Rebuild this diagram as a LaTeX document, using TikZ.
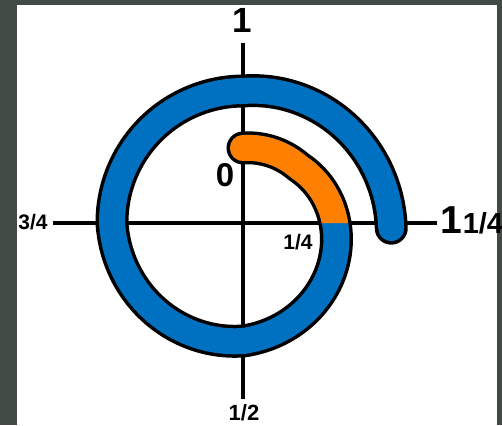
\documentclass[tikz,border=0pt]{standalone}
\usepackage{fontspec}
\setmainfont{Liberation Sans}
\usetikzlibrary{positioning}
\definecolor{ringblue}{RGB}{0,112,192}
\definecolor{ringorange}{RGB}{255,128,0}
\definecolor{framegray}{RGB}{66,74,70}
\tikzset{
  axisline/.style={line width=4pt},
  numlabel/.style={inner sep=0pt, font=\bfseries},
}
% the spiral, \p = degrees clockwise from the top
\def\spiralpath{plot[domain=0:452, samples=227, variable=\p] ({spr(\p)*sin(\p)}, {spr(\p)*cos(\p)})}
\begin{document}
\begin{tikzpicture}[x=1pt, y=1pt,
  declare function={spr(\p) = (\p<45) ? 75+\p*4/45 : ((\p<90) ? 79+(\p-45)*13/45 :
    ((\p<180) ? 92+(\p-90)*26/90 : ((\p<270) ? 118+(\p-180)*13/90 :
    ((\p<360) ? 131+(\p-270)/90 : 132+(\p-360)*16/90))));}]
  % Frame
  \fill[framegray] (-243,-202) rectangle (259,223);
  \fill[white] (-226,-202) rectangle (254,218);
  \useasboundingbox (-243,-202) rectangle (259,223);
  % Axes
  \coordinate (top) at (0,180);
  \coordinate (bottom) at (0,-176);
  \coordinate (left) at (-190,0);
  \coordinate (right) at (194,0);
  \draw[axisline] (top) -- (bottom);
  \draw[axisline] (left) -- (right);
  % Spiral: outline, blue, orange first quarter
  \draw[line width=33pt, line cap=round] \spiralpath;
  \draw[ringblue, line width=26pt, line cap=round] \spiralpath;
  \begin{scope}
    \clip (-20,0) -- (-20,100) -- (0,100) -- (0,112) arc[start angle=90, end angle=0, radius=112] -- cycle;
    \draw[ringorange, line width=26pt, line cap=round] \spiralpath;
  \end{scope}
  % Labels
  \node[numlabel, font=\fontsize{35}{35}\selectfont\bfseries] (one) at (-1,202.5) {1};
  \node[numlabel, font=\fontsize{22}{22}\selectfont\bfseries] (half) at (1,-190) {1/2};
  \node[numlabel, font=\fontsize{21}{21}\selectfont\bfseries] (threeq) at (-210,1) {3/4};
  \node[numlabel, font=\fontsize{33}{33}\selectfont\bfseries] (zero) at (-18,48) {0};
  \node[numlabel, font=\fontsize{21}{21}\selectfont\bfseries] (quarter) at (55,-19.5) {1/4};
  \node[numlabel, anchor=base, font=\fontsize{39}{39}\selectfont\bfseries] (onefull) at (208.5,-10) {1};
  \node[numlabel, anchor=base west, font=\fontsize{29}{29}\selectfont\bfseries] (onequarter) at (onefull.base east) {1/4};
\end{tikzpicture}
\end{document}
